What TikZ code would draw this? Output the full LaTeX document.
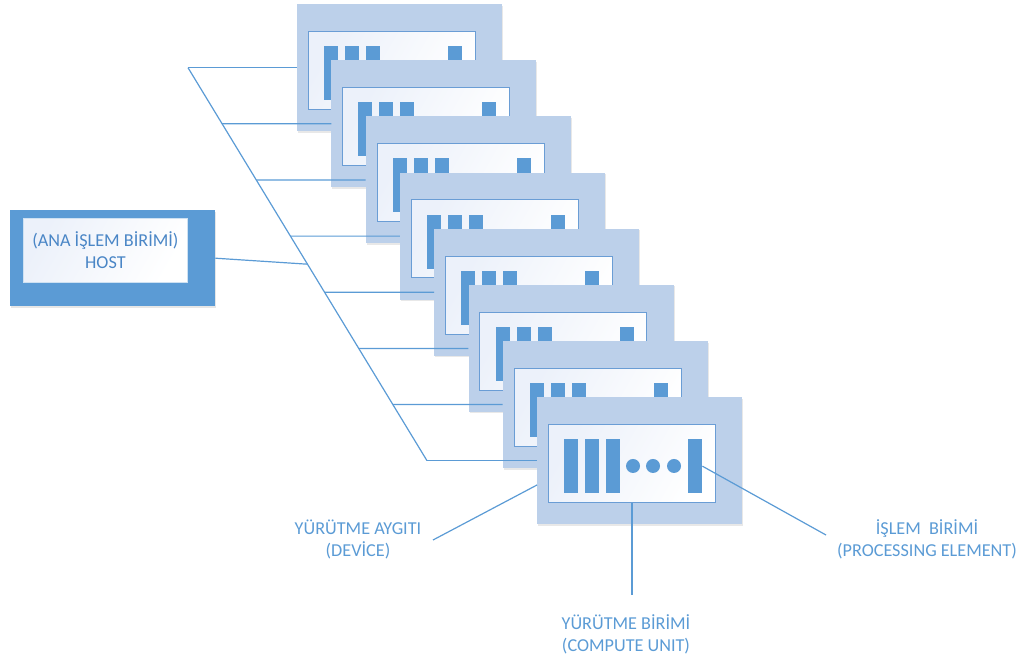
\documentclass[tikz,border=0pt]{standalone}
\usepackage{fontspec}
\setmainfont{Carlito}
\usetikzlibrary{calc,shadows}
\definecolor{accent}{HTML}{5B9BD5}
\definecolor{panelfill}{HTML}{BCD0EA}
\definecolor{innerline}{HTML}{6A9DD5}
\definecolor{innertop}{HTML}{ECF1FA}
\definecolor{hosttext}{HTML}{4A86C6}
\definecolor{labeltext}{HTML}{5B9BD5}
\begin{document}
\begin{tikzpicture}[x=1pt,y=-1pt,
  panel/.style={fill=panelfill, draw=none, minimum width=205pt, minimum height=127pt,
    inner sep=0pt, anchor=north west,
    drop shadow={shadow xshift=1pt, shadow yshift=-1.5pt, opacity=0.18, fill=black!50}},
  innerbox/.style={draw=innerline, line width=0.9pt, left color=innertop, right color=white,
    shading angle=60, minimum width=167pt, minimum height=78pt, inner sep=0pt, anchor=north west},
  bar/.style={fill=accent, draw=none, minimum width=14pt, minimum height=54pt, inner sep=0pt, anchor=north west},
  dot/.style={circle, fill=accent, draw=none, minimum size=14pt, inner sep=0pt},
  conn/.style={draw=accent, line width=1.2pt},
  lbl/.style={text=labeltext, align=center, font=\fontsize{18.2}{22}\selectfont, inner sep=0pt},
  hostouter/.style={fill=accent, draw=none, minimum width=205pt, minimum height=96pt, inner sep=0pt,
    anchor=north west, drop shadow={shadow xshift=1pt, shadow yshift=-1.5pt, opacity=0.2, fill=black!50}},
  hostinner/.style={draw=white!70!accent, line width=0.8pt, left color=innertop, right color=white,
    shading angle=60, minimum width=164pt, minimum height=64pt, inner sep=0pt, anchor=north west,
    text=hosttext, align=center, font=\fontsize{18.2}{22}\selectfont}
]
\useasboundingbox (0,0) rectangle (1021,659);

% host
\node[hostouter] (host) at (10,210) {};
\node[hostinner] (hosttxt) at (23,218) {(ANA İŞLEM BİRİMİ)\\HOST};

% device panels
\foreach \i in {1,...,8}{
  \pgfmathsetmacro\px{297+34.29*(\i-1)}
  \pgfmathsetmacro\py{4+56.14*(\i-1)}
  \node[panel] (d\i) at (\px,\py) {};
  \node[innerbox] (in\i) at ($(d\i.north west)+(11,27)$) {};
  \node[bar] (ba\i) at ($(d\i.north west)+(27,42)$) {};
  \node[bar] (bb\i) at ($(d\i.north west)+(48,42)$) {};
  \node[bar] (bc\i) at ($(d\i.north west)+(69,42)$) {};
  \node[dot] (da\i) at ($(d\i.north west)+(96,69)$) {};
  \node[dot] (db\i) at ($(d\i.north west)+(116,69)$) {};
  \node[dot] (dc\i) at ($(d\i.north west)+(137,69)$) {};
  \node[bar] (be\i) at ($(d\i.north west)+(151,42)$) {};
}

% bus
\coordinate (tx) at (188,0);
\coordinate (bx) at (427,0);
\coordinate (top) at (tx |- d1.west);
\coordinate (bot) at (bx |- d8.west);
\draw[conn] (top) -- (bot);
\foreach \i in {1,...,8}{
  \draw[conn] ($(top)!{(\i-1)/7}!(bot)$) -- (d\i.west);
}
\draw[conn] (host.east) -- ($(top)!0.5!(bot)$);

% labels
\node[lbl] (devlbl) at (358,539) {YÜRÜTME AYGITI\\(DEVİCE)};
\node[lbl] (culbl) at (626,634) {YÜRÜTME BİRİMİ\\(COMPUTE UNIT)};
\node[lbl] (pelbl) at (927,539) {İŞLEM\ \ BİRİMİ\\(PROCESSING ELEMENT)};

\coordinate (devend) at (433,540);
\draw[conn] (devend) -- ($(d8.north west)+(0,88)$);
\coordinate (cuy) at (0,595);
\draw[conn] (in8.south) -- (in8.south |- cuy);
\coordinate (peend) at (826,535);
\draw[conn] (be8.east) -- (peend);
\end{tikzpicture}
\end{document}
